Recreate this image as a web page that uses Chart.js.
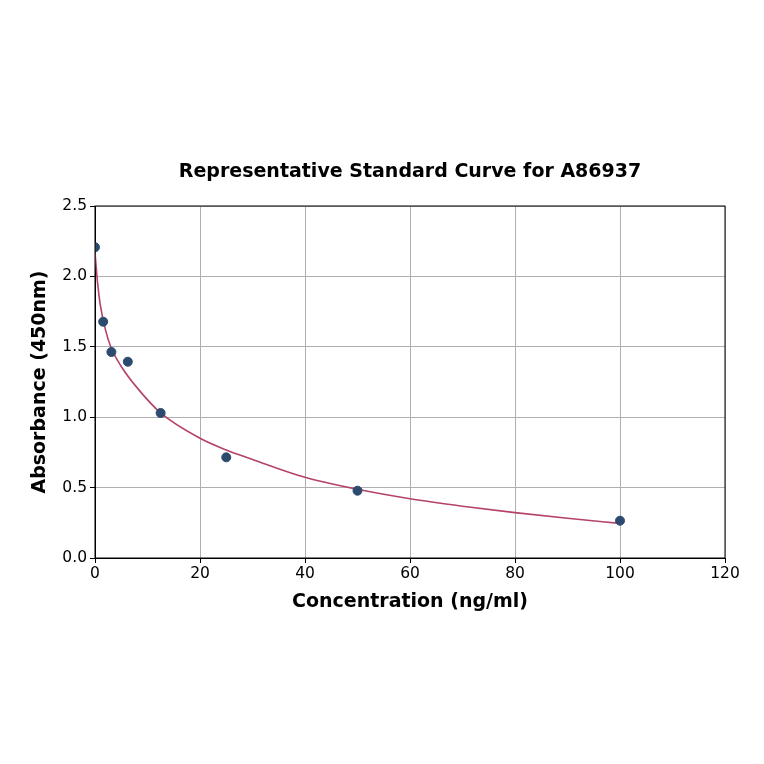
<!DOCTYPE html>
<html>
<head>
<meta charset="utf-8">
<script src="https://cdn.jsdelivr.net/npm/chart.js@4/dist/chart.umd.min.js"></script>
<style>
	html, body { margin: 0; padding: 0; background: #fff; }
	#wrap { width: 764px; height: 764px; }
</style>
</head>
<body>
<div id="wrap"><canvas id="myChart" width="764" height="764"></canvas></div>
<script>
// standards as measured
var concentrations = [0, 1.5625, 3.125, 6.25, 12.5, 25, 50, 100]
var absorbances = [2.207, 1.678, 1.463, 1.394, 1.03, 0.715, 0.478, 0.265]

// fitted curve
var curveX = [0, 0.5, 1, 2, 3, 5, 8, 12.5, 20, 25, 30, 40, 50, 60, 70, 80, 90, 100]
var curveY = [2.17, 1.95, 1.80, 1.62, 1.50, 1.36, 1.21, 1.03, 0.85, 0.767, 0.70, 0.573, 0.488, 0.421, 0.368, 0.322, 0.282, 0.246]

var xTicks = [0, 20, 40, 60, 80, 100, 120]
var yTicks = [0, 0.5, 1.0, 1.5, 2.0, 2.5]

var pointColor = '#2c4a6e'
var curveColor = '#b5426a'
var fontName = 'DejaVu Sans'

function toPoints(xs, ys) {
	return xs.map(function(x, i) { return {x: x, y: ys[i]} })
}

var frame = {
	id: 'frame',
	afterDraw: function(chart) {
		var a = chart.chartArea
		var c = chart.ctx
		c.save()
		c.strokeStyle = '#000'
		c.lineWidth = 1
		c.strokeRect(a.left, a.top, a.right - a.left, a.bottom - a.top)
		c.restore()
	}
}

var ctx = document.getElementById('myChart')
var chart = new Chart(ctx, {
	type: 'scatter',
	data: {
		datasets: [{
			label: 'Standards',
			data: toPoints(concentrations, absorbances),
			backgroundColor: pointColor,
			borderColor: pointColor,
			pointRadius: 4.5,
			order: 0,
		}, {
			label: 'Fit',
			data: toPoints(curveX, curveY),
			showLine: true,
			borderColor: curveColor,
			borderWidth: 1.6,
			pointRadius: 0,
			cubicInterpolationMode: 'monotone',
			order: 1,
		}]
	},
	options: {
		responsive: false,
		animation: false,
		layout: { padding: { left: 0, right: 39, top: 0, bottom: 106 } },
		plugins: {
			legend: { display: false },
			tooltip: { enabled: false },
			title: {
				display: true,
				fullSize: false,
				text: 'Representative Standard Curve for A86937',
				color: '#000',
				font: { family: fontName, size: 19, weight: 'bold' },
				padding: { top: 160.6, bottom: 22.6 },
			},
		},
		scales: {
			x: {
				type: 'linear',
				min: 0, max: 120,
				afterBuildTicks: function(axis) { axis.ticks = xTicks.map(function(v) { return {value: v} }) },
				afterFit: function(axis) { axis.height = 100 },
				ticks: { color: '#000', font: { family: fontName, size: 15.5 }, padding: 2 },
				grid: { color: '#b0b0b0', tickColor: '#000', tickLength: 5 },
				border: { color: '#000' },
				title: {
					display: true,
					text: 'Concentration (ng/ml)',
					color: '#000',
					font: { family: fontName, size: 19, weight: 'bold' },
					padding: { top: 0, bottom: 45 },
				},
			},
			y: {
				type: 'linear',
				min: 0, max: 2.5,
				afterBuildTicks: function(axis) { axis.ticks = yTicks.map(function(v) { return {value: v} }) },
				afterFit: function(axis) { axis.width = 95 },
				ticks: {
					color: '#000', font: { family: fontName, size: 15.5 }, padding: 3,
					callback: function(v) { return v.toFixed(1) },
				},
				grid: { color: '#b0b0b0', tickColor: '#000', tickLength: 5 },
				border: { color: '#000' },
				title: {
					display: true,
					text: 'Absorbance (450nm)',
					color: '#000',
					font: { family: fontName, size: 19, weight: 'bold' },
					padding: { top: 28.7, bottom: 0 },
				},
			},
		},
	},
	plugins: [frame],
})
</script>
</body>
</html>
